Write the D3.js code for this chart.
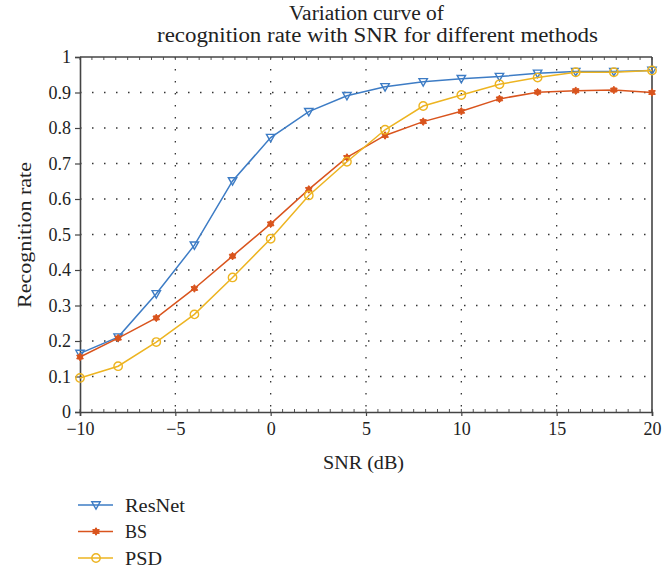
<!DOCTYPE html>
<html>
<head>
<meta charset="utf-8">
<script src="https://cdn.jsdelivr.net/npm/d3@7"></script>
<style>
  body { margin: 0; background: #fff; }
  svg text { font-family: "Liberation Serif", "DejaVu Serif", serif; fill: #222; }
</style>
</head>
<body>
<svg id="chart" width="664" height="572"></svg>
<script>
// data
const snr = [-10, -8, -6, -4, -2, 0, 2, 4, 6, 8, 10, 12, 14, 16, 18, 20];
const resnet = [0.165, 0.211, 0.333, 0.470, 0.651, 0.773, 0.846, 0.891, 0.916, 0.930, 0.939, 0.945, 0.954, 0.959, 0.959, 0.962];
const bs = [0.155, 0.208, 0.265, 0.348, 0.439, 0.530, 0.627, 0.717, 0.779, 0.818, 0.847, 0.882, 0.901, 0.905, 0.907, 0.900];
const psd = [0.096, 0.129, 0.197, 0.275, 0.379, 0.488, 0.610, 0.705, 0.795, 0.862, 0.893, 0.923, 0.942, 0.957, 0.957, 0.962];
const xTicks = [-10, -5, 0, 5, 10, 15, 20];
const yTicks = [0, 0.1, 0.2, 0.3, 0.4, 0.5, 0.6, 0.7, 0.8, 0.9, 1];

const series = [
  {name: 'ResNet', values: resnet, color: '#3d7cc5', marker: 'tri', w: 60},
  {name: 'BS', values: bs, color: '#d9541d', marker: 'star', w: 22},
  {name: 'PSD', values: psd, color: '#edb421', marker: 'circle', w: 37}
];

const FONT = '"Liberation Serif", "DejaVu Serif", serif';
const svg = d3.select('#chart');
const margin = {top: 57, right: 12, bottom: 160, left: 80};
const width = 664 - margin.left - margin.right;
const height = 572 - margin.top - margin.bottom;

const x = d3.scaleLinear().domain([-10, 20]).range([0, width]);
const y = d3.scaleLinear().domain([0, 1]).range([height, 0]);

const g = svg.append('g').attr('transform', `translate(${margin.left},${margin.top})`);

// dotted grid
g.selectAll('.vgrid').data(xTicks.slice(1, -1)).join('line')
  .attr('x1', d => x(d)).attr('x2', d => x(d))
  .attr('y1', 0).attr('y2', height)
  .attr('stroke', '#333').attr('stroke-width', 1.3).attr('stroke-dasharray', '1.5,10.5');
g.selectAll('.hgrid').data(yTicks.slice(1, -1)).join('line')
  .attr('y1', d => y(d)).attr('y2', d => y(d))
  .attr('x1', 0).attr('x2', width)
  .attr('stroke', '#333').attr('stroke-width', 1.3).attr('stroke-dasharray', '1.5,10.5');

// minor ticks (8 per major step) on top and bottom
const minor = d3.range(-10, 20.001, 5 / 8);
g.selectAll('.mb').data(minor).join('line')
  .attr('x1', d => x(d)).attr('x2', d => x(d))
  .attr('y1', height).attr('y2', height - 3)
  .attr('stroke', '#555').attr('stroke-width', 1);
g.selectAll('.mt').data(minor).join('line')
  .attr('x1', d => x(d)).attr('x2', d => x(d))
  .attr('y1', 0).attr('y2', 3)
  .attr('stroke', '#555').attr('stroke-width', 1);

// axes
const xAxis = g.append('g').attr('transform', `translate(0,${height})`)
  .call(d3.axisBottom(x).tickValues(xTicks).tickSize(4).tickPadding(6)
    .tickFormat(d => d < 0 ? '\u2212' + Math.abs(d) : d));
const yAxis = g.append('g')
  .call(d3.axisLeft(y).tickValues(yTicks).tickSize(5).tickPadding(4)
    .tickFormat(d => d3.format('~g')(d)));
[xAxis, yAxis].forEach(a => {
  a.attr('font-family', FONT);
  a.select('.domain').attr('stroke', '#444').attr('stroke-width', 1.6);
  a.selectAll('.tick line').attr('stroke', '#444').attr('stroke-width', 1.2);
  a.selectAll('.tick text').style('font-family', FONT)
    .style('font-size', '18px').attr('fill', '#222');
});

// top and right border
g.append('line').attr('x1', 0).attr('x2', width).attr('y1', 0).attr('y2', 0)
  .attr('stroke', '#444').attr('stroke-width', 1.6);
g.append('line').attr('x1', width).attr('x2', width).attr('y1', 0).attr('y2', height)
  .attr('stroke', '#444').attr('stroke-width', 1.6);

const line = d3.line().x((d, i) => x(snr[i])).y(d => y(d));

// six-pointed star path
function hexagram (r) {
  const pts = d3.range(12).map(k => {
    const a = Math.PI / 6 * k - Math.PI / 2;
    const rr = k % 2 === 0 ? r : r * 0.62;
    return [rr * Math.cos(a), rr * Math.sin(a)];
  });
  return 'M' + pts.join('L') + 'Z';
}

function drawMarker (sel, type, color) {
  if (type === 'tri') {
    sel.append('path').attr('d', 'M-4.2,-3.2L4.2,-3.2L0,4.2Z')
      .attr('fill', 'none').attr('stroke', color).attr('stroke-width', 1.4);
  } else if (type === 'star') {
    sel.append('path').attr('d', hexagram(3.8))
      .attr('fill', color).attr('stroke', color).attr('stroke-width', 1);
  } else {
    sel.append('circle').attr('r', 4.2)
      .attr('fill', 'none').attr('stroke', color).attr('stroke-width', 1.4);
  }
}

series.forEach(s => {
  g.append('path').datum(s.values)
    .attr('d', line).attr('fill', 'none')
    .attr('stroke', s.color).attr('stroke-width', 1.5);
  g.selectAll(null).data(s.values).join('g')
    .attr('transform', (d, i) => `translate(${x(snr[i])},${y(d)})`)
    .each(function () { drawMarker(d3.select(this), s.marker, s.color); });
});

// title and labels (widths matched to the reference)
function label (px, py, str, len, size) {
  return svg.append('text').attr('x', px).attr('y', py)
    .attr('textLength', len).attr('lengthAdjust', 'spacingAndGlyphs')
    .style('font-family', FONT).style('font-size', size + 'px').text(str);
}
label(289, 20, 'Variation curve of', 155, 20);
label(157, 42, 'recognition rate with SNR for different methods', 441, 20);
label(323, 469, 'SNR (dB)', 81, 19);
svg.append('text').attr('transform', 'translate(31,308) rotate(-90)')
  .attr('textLength', 146).attr('lengthAdjust', 'spacingAndGlyphs')
  .style('font-family', FONT).style('font-size', '19px').text('Recognition rate');

// legend
const legend = svg.append('g').attr('transform', 'translate(78,505)');
series.forEach((s, i) => {
  const row = legend.append('g').attr('transform', `translate(0,${i * 26.5})`);
  row.append('line').attr('x1', 0).attr('x2', 35).attr('y1', 0).attr('y2', 0)
    .attr('stroke', s.color).attr('stroke-width', 1.5);
  drawMarker(row.append('g').attr('transform', 'translate(18,0)'), s.marker, s.color);
  row.append('text').attr('x', 47).attr('y', 6.5)
    .attr('textLength', s.w).attr('lengthAdjust', 'spacingAndGlyphs')
    .style('font-family', FONT).style('font-size', '19px').text(s.name);
});
</script>
</body>
</html>
